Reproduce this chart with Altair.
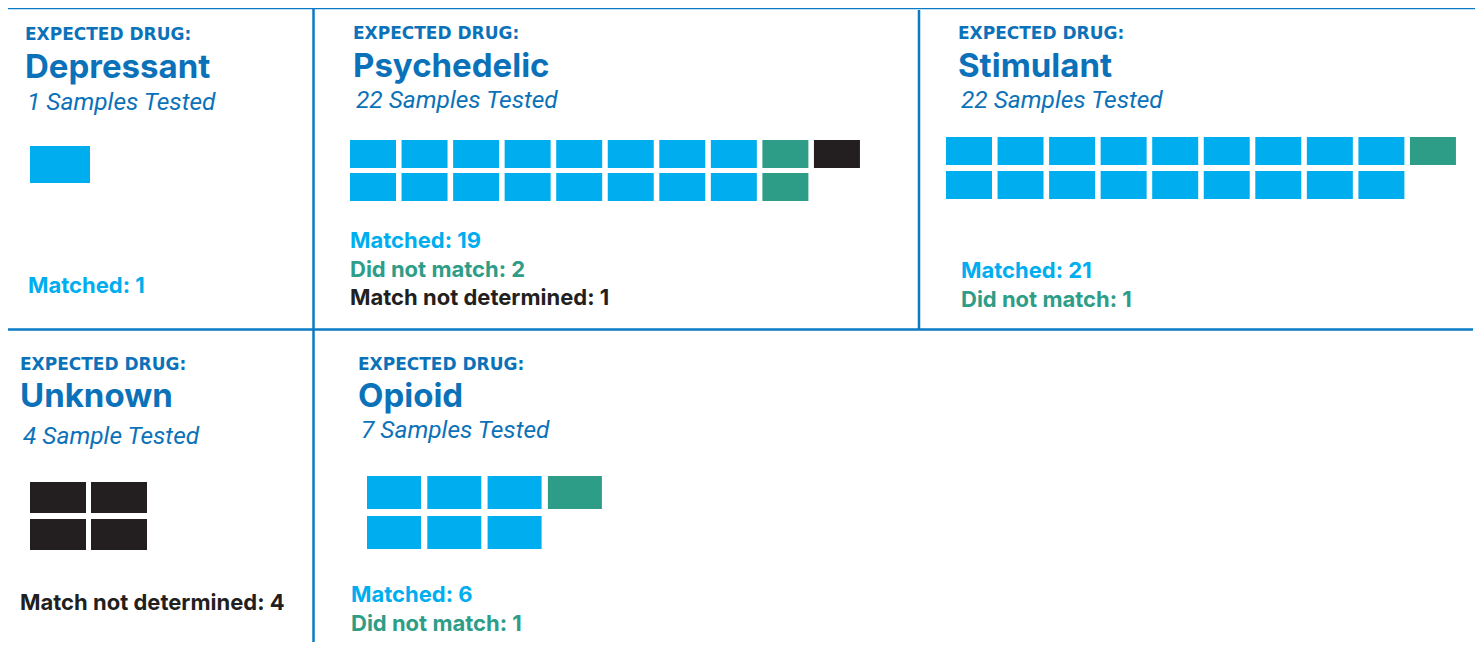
import altair as alt
import pandas as pd

# ---------------- data ----------------
drugs = ["Depressant", "Psychedelic", "Stimulant", "Unknown", "Opioid"]
tested_labels = ["1 Samples Tested", "22 Samples Tested", "22 Samples Tested",
                 "4 Sample Tested", "7 Samples Tested"]
matched_counts = [1, 19, 21, None, 6]
not_matched_counts = [None, 2, 1, None, 1]
undetermined_counts = [None, 1, None, 4, None]
# squares drawn in each waffle
cells_matched = [1, 16, 18, 0, 6]
cells_not_matched = [0, 2, 1, 0, 1]
cells_undetermined = [0, 1, 0, 4, 0]

categories = ["Matched", "Did not match", "Match not determined"]
cat_colors = ["#00aeef", "#2e9d88", "#231f20"]
heading_color = "#0b72b9"
border_color = "#0b7ac4"
FONT = "Inter"
KICKER_FONT = "DejaVu Sans"
ITALIC_FONT = "Roboto"

# ---------------- layout (page pixels) ----------------
title_x = [25, 353, 958, 20, 358]
sub_x = [27, 356, 961, 23, 361]
kicker_y = [40, 39, 39, 370, 370]
title_y = [78, 77, 77, 407, 407]
sub_y = [110, 108, 108, 444, 438]
summary_x = [28, 350, 961, 20, 351]
summary_y = [293, 248, 278, 610, 602]
summary_step = 28.5
# waffle geometry: left, top, cell w, cell h, step x, step y
grid_x0 = [30, 350, 946, 30, 367]
grid_y0 = [146, 140, 137, 482, 476]
cell_w = [60, 46, 46, 56, 54]
cell_h = [37, 28, 28, 31, 33]
step_x = [65, 51.55, 51.55, 61, 60.3]
step_y = [42, 33, 34, 37, 40]

# border lines
line_x1 = [8, 0, 313.5, 919]
line_x2 = [1475, 1473, 313.5, 919]
line_y1 = [8, 329.5, 8, 10]
line_y2 = [8, 329.5, 650, 329]

# ---------------- tables ----------------
cells = []
for p, d in enumerate(drugs):
    seq = (["Matched"] * cells_matched[p] + ["Did not match"] * cells_not_matched[p]
           + ["Match not determined"] * cells_undetermined[p])
    for i, c in enumerate(seq):
        col, row = i // 2, i % 2
        x = grid_x0[p] + col * step_x[p]
        y = grid_y0[p] + row * step_y[p]
        cells.append({"drug": d, "cat": c, "x": x, "x2": x + cell_w[p],
                      "y": y, "y2": y + cell_h[p]})
cells_df = pd.DataFrame(cells)

kicker_df = pd.DataFrame({"x": title_x, "y": kicker_y, "t": ["EXPECTED DRUG:"] * len(drugs)})
title_df = pd.DataFrame({"x": title_x, "y": title_y, "t": drugs})
sub_df = pd.DataFrame({"x": sub_x, "y": sub_y, "t": tested_labels})

summary = []
for p, d in enumerate(drugs):
    k = 0
    for cat, val in zip(categories, [matched_counts[p], not_matched_counts[p], undetermined_counts[p]]):
        if val is None:
            continue
        summary.append({"x": summary_x[p], "y": summary_y[p] + k * summary_step,
                        "t": f"{cat}: {val}", "cat": cat})
        k += 1
summary_df = pd.DataFrame(summary)

lines_df = pd.DataFrame({"x": line_x1, "x2": line_x2, "y": line_y1, "y2": line_y2})

# ---------------- chart ----------------
W, H = 1467, 634
xs = alt.Scale(domain=[8, 8 + W], nice=False, zero=False)
ys = alt.Scale(domain=[8, 8 + H], reverse=True, nice=False, zero=False)
color = alt.Color("cat:N", scale=alt.Scale(domain=categories, range=cat_colors), legend=None)

X = lambda f="x": alt.X(f"{f}:Q", scale=xs, axis=None)
Y = lambda f="y": alt.Y(f"{f}:Q", scale=ys, axis=None)

rules = alt.Chart(lines_df).mark_rule(color=border_color, strokeWidth=2.5).encode(
    x=X(), x2="x2:Q", y=Y(), y2="y2:Q")

rects = alt.Chart(cells_df).mark_rect().encode(
    x=X(), x2="x2:Q", y=Y(), y2="y2:Q", color=color)

def text_layer(df, font=FONT, **kw):
    return alt.Chart(df).mark_text(align="left", baseline="alphabetic", font=font, **kw).encode(
        x=X(), y=Y(), text="t:N")

kicker = text_layer(kicker_df, font=KICKER_FONT, fontSize=17, fontWeight="bold", color=heading_color)
titles = text_layer(title_df, fontSize=33, fontWeight="bold", color=heading_color)
subs = text_layer(sub_df, font=ITALIC_FONT, fontSize=24.5, fontStyle="italic", color=heading_color)
summ = alt.Chart(summary_df).mark_text(align="left", baseline="alphabetic", font=FONT,
                                       fontSize=22, fontWeight="bold").encode(
    x=X(), y=Y(), text="t:N", color=color)

chart = alt.layer(rules, rects, kicker, titles, subs, summ).properties(
    width=W, height=H, padding=0, autosize="none"
).configure_view(stroke=None)

chart.save("out.html", embed_options={"renderer": "svg", "actions": False})
